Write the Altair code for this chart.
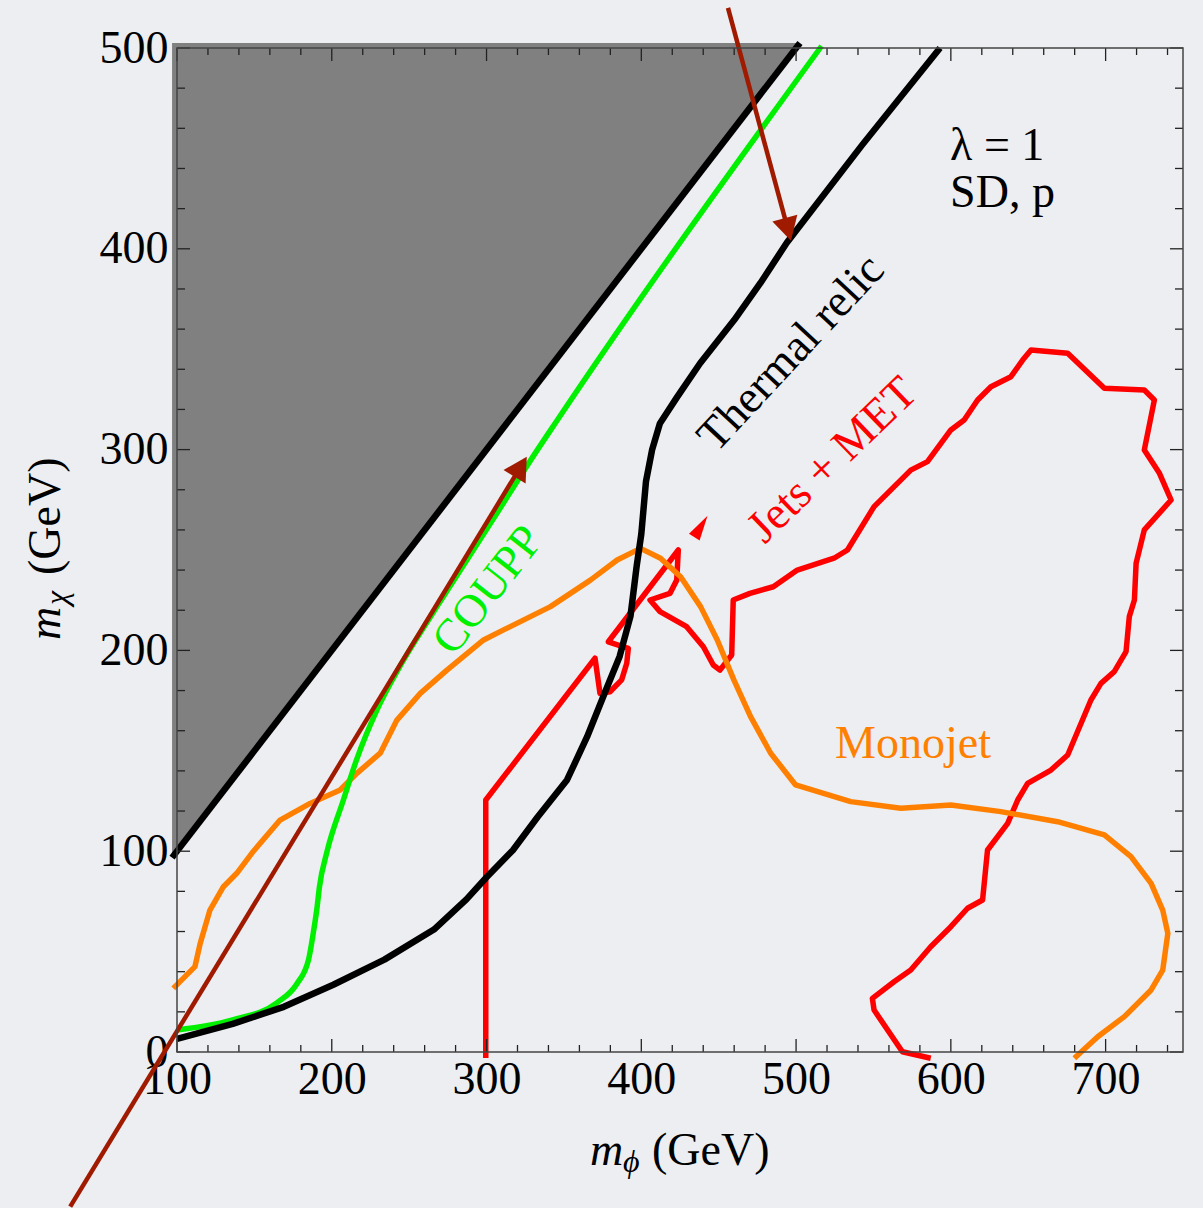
import math
import altair as alt
import pandas as pd

# ---------------------------------------------------------------------------
# Axis ranges and tick values (GeV)
# ---------------------------------------------------------------------------
X_MIN, X_MAX = 100, 750
Y_MIN, Y_MAX = 0, 500
x_major = [100, 200, 300, 400, 500, 600, 700]
y_major = [0, 100, 200, 300, 400, 500]
x_minor = [120, 140, 160, 180, 220, 240, 260, 280, 320, 340, 360, 380, 420, 440,
           460, 480, 520, 540, 560, 580, 620, 640, 660, 680, 720, 740]
y_minor = [20, 40, 60, 80, 120, 140, 160, 180, 220, 240, 260, 280, 320, 340,
           360, 380, 420, 440, 460, 480]

# ---------------------------------------------------------------------------
# Curves in the (m_phi, m_chi) plane
# ---------------------------------------------------------------------------
# excluded region m_chi > m_phi
excl_x = [96.8, 502.5]
excl_y = [96.8, 502.5]
excl_top = [502.5, 502.5]

thermal_x = [100, 136, 169, 201, 234, 266, 287, 300, 317, 333, 352, 365, 377, 386,
             393, 397, 400, 403, 407, 412, 423, 438, 460, 477, 494, 543, 593]
thermal_y = [6.5, 14, 22.5, 33.5, 46, 61, 76, 87, 100.5, 117, 135.5, 157, 180, 197,
             217, 242, 258, 284, 300, 313, 326, 343, 364.5, 383, 403, 452, 500]

coupp_x = [100, 136, 164.5, 177.5, 185, 188, 190.5, 192, 197, 207.5, 216, 229, 244,
           264, 279, 304, 330, 346, 516.5]
coupp_y = [11, 16, 24.5, 34, 46, 59, 72, 82, 100, 125.5, 145.5, 170, 192,
           217, 235, 265, 296.5, 315, 501]

monojet_x = [97.6, 111.6, 115, 121.3, 130, 138.6, 149.4, 166.6, 186, 205.4,
             216.2, 231.3, 242.1, 257.2, 274.4, 298.1, 311, 341.3, 367.1, 384.4,
             399.5, 412.4, 425.4, 438.3, 449.1, 459.8, 470.6, 483.6, 499.7, 535.3,
             567.7, 600, 632.3, 669, 699.2, 716.4, 729.4, 736.9, 740.2, 736.9,
             729.4, 712.1, 694.9, 679.8]
monojet_y = [31.7, 42.5, 54.1, 70.7, 82.3, 89, 100, 115.5, 123.8, 130.5,
             138.8, 148.8, 165.3, 178.6, 190.2, 205.2, 210.2, 221.8, 235, 245,
             250.8, 245.9, 236.7, 221.8, 205.2, 185.3, 167, 148.8, 133, 124.7,
             121.4, 123, 119.7, 114.7, 108.1, 97.3, 84, 70.7, 59.1, 40.8,
             30.9, 17.6, 7.6, -3.1]

jets_x = [299.5, 299.5, 370.1, 373.3, 379.8, 387.3, 390.6, 391.6, 378.7, 423.9,
          422.9, 418.5, 405.6, 412.1, 429.3, 440.1, 446.5, 450.8, 458.4, 459.4,
          470.2, 485.3, 500.8, 524.5, 533.2, 550.4, 574.1, 584.9, 600, 608.6,
          617.3, 625.9, 638.8, 646.4, 651.8, 675.5, 699.2, 725, 731.5, 725,
          734.8, 742.3, 725, 719.7, 718.6, 715.3, 713.2, 705.6, 697, 690.5,
          675.5, 664.7, 649.6, 643.2, 636.7, 623.7, 620.5, 610.8, 600, 587,
          574.1, 563.3, 549.3, 550.4, 568.7, 587]
jets_y = [-3, 125.5, 196.1, 178.6, 179.4, 185.3, 193.6, 201, 204.3, 250,
          235, 228.4, 225.1, 219.3, 211.8, 201.8, 192.7, 190.2, 197.7, 225.1,
          228.4, 231.7, 240, 245.9, 250, 271.6, 289.8, 294, 309.8, 314.7,
          324.7, 331.3, 336.3, 344.6, 349.6, 348, 330.5, 329.7, 324.7, 299.8,
          288.2, 274.9, 260, 243.4, 225.1, 216.8, 199.4, 189.4, 183.6, 175.3,
          147.9, 140.4, 133.8, 125.5, 113.9, 100.6, 75.7, 71.6, 62.4, 52.4,
          40.8, 35, 26.7, 20.9, 0.1, -3.1]

# small dart next to the Jets + MET label
dart_x = [442.8]
dart_y = [267]

# pointer arrows (start -> tip)
arrow_start_x = [31, 456]
arrow_start_y = [-77, 520]
arrow_tip_x = [326, 496.7]
arrow_tip_y = [296.5, 404]

# ---------------------------------------------------------------------------
# Styling
# ---------------------------------------------------------------------------
W, H = 1006, 1004
BG = "#eceef2"
SERIF = "Liberation Serif"
FS = 46
BROWN = "#a01a00"
GREEN = "#00f000"
ORANGE = "#ff8000"
RED = "#ff0000"

xscale = alt.Scale(domain=[X_MIN, X_MAX], nice=False, zero=False)
yscale = alt.Scale(domain=[Y_MIN, Y_MAX], nice=False, zero=False)
xaxis = alt.Axis(title=None, values=x_major, format="d", grid=False, ticks=False,
                 tickSize=0, domain=False, labelFont=SERIF, labelFontSize=FS,
                 labelColor="black", labelPadding=5, labelFlush=False,
                 labelOverlap=False)
yaxis = alt.Axis(title=None, values=y_major, format="d", grid=False, ticks=False,
                 tickSize=0, domain=False, labelFont=SERIF, labelFontSize=FS,
                 labelColor="black", labelPadding=9, labelFlush=False,
                 labelOverlap=False, labelBaseline="middle")


def X(field="x"):
    return alt.X(f"{field}:Q", scale=xscale, axis=xaxis)


def Y(field="y"):
    return alt.Y(f"{field}:Q", scale=yscale, axis=yaxis)


def path_df(xs, ys):
    return pd.DataFrame({"x": xs, "y": ys, "i": list(range(len(xs)))})


def curve(xs, ys, color, width, interpolate="linear"):
    return alt.Chart(path_df(xs, ys)).mark_line(
        color=color, strokeWidth=width, clip=False, strokeJoin="round",
        interpolate=interpolate
    ).encode(x=X(), y=Y(), order="i:Q")


# excluded triangle and its boundary
excl_df = pd.DataFrame({"x": excl_x, "y": excl_y, "top": excl_top})
excluded = alt.Chart(excl_df).mark_area(color="#808080", opacity=1, clip=False).encode(
    x=X(), y=Y(), y2="top"
)
boundary = curve(excl_x, excl_y, "black", 6.5)

jets = curve(jets_x, jets_y, RED, 5.5)
monojet = curve(monojet_x, monojet_y, ORANGE, 5.5)
coupp = curve(coupp_x, coupp_y, GREEN, 5.5, interpolate="monotone")
thermal = curve(thermal_x, thermal_y, "black", 6.5)

dart = alt.Chart(pd.DataFrame({"x": dart_x, "y": dart_y})).mark_point(
    shape="M0,0 L0.5,2 L-0.5,2 Z", size=625, filled=True, opacity=1,
    color=RED, strokeWidth=0, angle=32, clip=False
).encode(x=X(), y=Y())

# arrows: shaft stops under the head, head rotated along the shaft
SX = W / (X_MAX - X_MIN)
SY = H / (Y_MAX - Y_MIN)
HEAD_LEN = 23.5
shaft_rows, head_rows = [], []
for k, (x0, y0, x1, y1) in enumerate(zip(arrow_start_x, arrow_start_y,
                                         arrow_tip_x, arrow_tip_y)):
    dxp = (x1 - x0) * SX
    dyp = (y1 - y0) * SY
    length = math.hypot(dxp, dyp)
    f = (length - 0.6 * HEAD_LEN) / length
    shaft_rows.append({"arrow": k, "i": 0, "x": x0, "y": y0})
    shaft_rows.append({"arrow": k, "i": 1, "x": x0 + (x1 - x0) * f, "y": y0 + (y1 - y0) * f})
    head_rows.append({"x": x1, "y": y1, "ang": math.degrees(math.atan2(dxp, dyp)) % 360})

shafts = alt.Chart(pd.DataFrame(shaft_rows)).mark_line(
    color=BROWN, strokeWidth=4.5, clip=False
).encode(x=X(), y=Y(), detail="arrow:N", order="i:Q")
heads = alt.Chart(pd.DataFrame(head_rows)).mark_point(
    shape="M0,0 L1.1,2 L-1.1,2 Z", size=HEAD_LEN ** 2, filled=True, opacity=1,
    color=BROWN, strokeWidth=0, clip=False
).encode(x=X(), y=Y(), angle=alt.Angle("ang:Q", scale=None))


def label(text, x, y, color="black", angle=0, align="center", baseline="middle"):
    return alt.Chart(pd.DataFrame({"x": [x], "y": [y]})).mark_text(
        text=text, font=SERIF, fontSize=FS, color=color, angle=angle,
        align=align, baseline=baseline, clip=False
    ).encode(x=X(), y=Y())


labels = [
    label("\u03bb = 1", 599.5, 444.2, align="left", baseline="alphabetic"),
    label("SD, p", 599.5, 420.8, align="left", baseline="alphabetic"),
    label("Thermal relic", 496.7, 348.1, angle=313),
    label("Jets + MET", 523.5, 294.8, color=RED, angle=316),
    label("COUPP", 301, 230, color=GREEN, angle=308),
    label("Monojet", 525.2, 146.4, color=ORANGE, align="left", baseline="alphabetic"),
]

# axis titles with sub-scripted symbols
one = pd.DataFrame({"k": [0]})


def title_piece(text, px, py, size=FS, italic=False, angle=0):
    kw = dict(text=text, font=SERIF, fontSize=size, color="black",
              align="left", baseline="alphabetic", angle=angle)
    if italic:
        kw["fontStyle"] = "italic"
    return alt.Chart(one).mark_text(**kw).encode(x=alt.value(px), y=alt.value(py))


titles = [
    title_piece("m", 413, 1117, italic=True),
    title_piece("\u03d5", 446, 1124, size=32, italic=True),
    title_piece("(GeV)", 475, 1117),
    title_piece("m", -117, 592, italic=True, angle=270),
    title_piece("\u03c7", -110, 557, size=32, italic=True, angle=270),
    title_piece("(GeV)", -117, 527, angle=270),
]


# inward ticks on all four sides
def x_ticks(values, length):
    base = alt.Chart(pd.DataFrame({"v": values})).mark_rule(color="#222", strokeWidth=1.3)
    return [
        base.encode(x=X("v"), y=alt.value(H), y2=alt.value(H - length)),
        base.encode(x=X("v"), y=alt.value(0), y2=alt.value(length)),
    ]


def y_ticks(values, length):
    base = alt.Chart(pd.DataFrame({"v": values})).mark_rule(color="#222", strokeWidth=1.3)
    return [
        base.encode(y=Y("v"), x=alt.value(0), x2=alt.value(length)),
        base.encode(y=Y("v"), x=alt.value(W), x2=alt.value(W - length)),
    ]


ticks = x_ticks(x_major, 13) + x_ticks(x_minor, 7) + y_ticks(y_major, 13) + y_ticks(y_minor, 8)

frame = alt.Chart(one).mark_rect(
    fillOpacity=0, stroke="#444", strokeWidth=1.5
).encode(x=alt.value(0), x2=alt.value(W), y=alt.value(0), y2=alt.value(H))

chart = alt.layer(
    excluded, boundary, jets, dart, monojet, coupp, thermal, shafts, heads,
    *labels, *titles, *ticks, frame
).properties(
    width=W, height=H, background=BG,
    padding={"left": 177, "top": 48, "right": 20, "bottom": 156},
    autosize=alt.AutoSizeParams(type="none"),
).configure_view(strokeWidth=0)

chart.save("out.html", embed_options={"renderer": "svg", "actions": False})
